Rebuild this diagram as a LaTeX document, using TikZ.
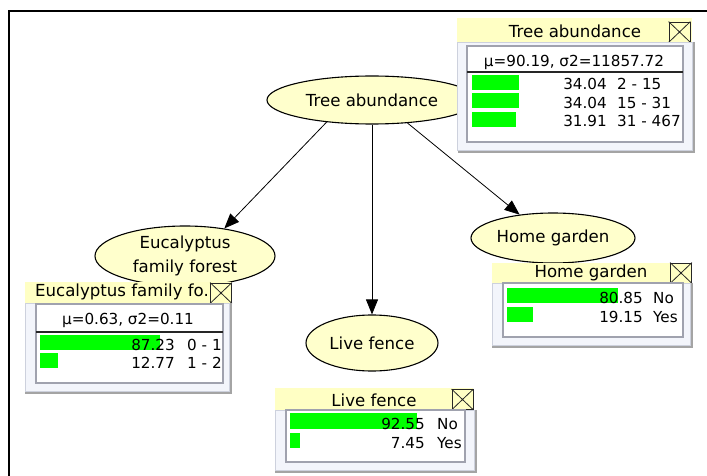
\documentclass[tikz,border=0pt]{standalone}
\usepackage{fontspec}
\setmainfont{DejaVu Sans}
\usetikzlibrary{shapes.geometric,arrows.meta}

\definecolor{nodefill}{HTML}{FFFFCC}
\definecolor{bandfill}{HTML}{FFFFC4}
\definecolor{panelfill}{HTML}{F3F5FB}
\definecolor{panelline}{HTML}{CDD1DD}
\definecolor{shadowgrey}{HTML}{A4A4A4}
\definecolor{boxgrey}{HTML}{A0A2AE}
\definecolor{barfill}{HTML}{00FF00}

\newcommand\ttlfont{\fontsize{16.6}{24}\selectfont}
\newcommand\bodyfont{\fontsize{15.2}{18}\selectfont}

\tikzset{
  var/.style={ellipse, draw=black, line width=1.1pt, fill=nodefill, inner sep=0pt,
              font=\ttlfont, align=center},
  arr/.style={-{Triangle[length=15pt,width=12pt]}, line width=0.8pt},
  band/.style={fill=bandfill},
  panel/.style={fill=panelfill, draw=panelline, line width=0.6pt},
  shade/.style={draw=shadowgrey, line width=2pt},
  inbox/.style={fill=white, draw=boxgrey, line width=1.1pt},
  sep/.style={draw=black!85, line width=1.5pt},
  bar/.style={fill=barfill},
  ttl/.style={font=\ttlfont, inner sep=0pt},
  stat/.style={font=\bodyfont, inner sep=0pt},
  num/.style={font=\bodyfont, inner sep=0pt, anchor=base east},
  lab/.style={font=\bodyfont, inner sep=0pt, anchor=base west},
  closebox/.style={draw=black!85, line width=0.9pt, fill=bandfill, inner sep=0pt,
                   minimum width=21pt, minimum height=20pt},
  cross/.style={draw=black!85, line width=0.8pt}
}

\begin{document}
\begin{tikzpicture}[x=1pt, y=-1pt]
\useasboundingbox (0,0) rectangle (707,476);
\fill[white] (0,0) rectangle (707,476);

% window frame
\draw[line width=2pt] (9,476) -- (9,11) -- (707,11);

% variables
\node[var, minimum width=210pt, minimum height=48pt] (tree) at (372,100) {Tree abundance};
\node[var, minimum width=180pt, minimum height=60pt] (euca) at (185,256) {Eucalyptus\\family forest};
\node[var, minimum width=132pt, minimum height=56pt] (live) at (372,343) {Live fence};
\node[var, minimum width=164pt, minimum height=50pt] (home) at (553,238) {Home garden};

% links
\draw[arr] (tree.206.6) -- (euca.35);
\draw[arr] (tree.270) -- (live.90);
\draw[arr] (tree.327.5) -- (home.145.6);

% ---- monitor: Tree abundance ----
\fill[band] (457,18) rectangle (692,42);
\node[ttl] (treeT) at (575,31) {Tree abundance};
\node[closebox] (treeX) at (679.5,32) {};
\draw[cross] (treeX.north west) -- (treeX.south east) (treeX.north east) -- (treeX.south west);
\draw[panel] (457,42) rectangle (692,150);
\draw[shade] (694,42) -- (694,152) -- (458,152);
\draw[inbox] (467,46) rectangle (683,142);
\node[stat] (treeS) at (574,62) {μ=90.19, σ2=11857.72};
\draw[sep] (467,72) -- (683,72);
\fill[bar] (472,75) rectangle +(46.8,15);
\fill[bar] (472,93.5) rectangle +(46.8,15);
\fill[bar] (472,112) rectangle +(43.9,15);
\node[num] (treeN1) at (607,90) {34.04};
\node[num] (treeN2) at (607,108.5) {34.04};
\node[num] (treeN3) at (607,127) {31.91};
\node[lab] (treeL1) at (617,90) {2 - 15};
\node[lab] (treeL2) at (617,108.5) {15 - 31};
\node[lab] (treeL3) at (617,127) {31 - 467};

% ---- monitor: Eucalyptus family forest ----
\fill[band] (25,282) rectangle (232,303);
\node[ttl] (eucaT) at (122,292) {Eucalyptus family fo.};
\node[closebox] (eucaX) at (221,293) {};
\draw[cross] (eucaX.north west) -- (eucaX.south east) (eucaX.north east) -- (eucaX.south west);
\draw[panel] (25,303) rectangle (229,391);
\draw[shade] (231,303) -- (231,393) -- (25,393);
\draw[inbox] (36,304) rectangle (223,383);
\node[stat] (eucaS) at (128,320) {μ=0.63, σ2=0.11};
\draw[sep] (36,332) -- (223,332);
\fill[bar] (40,335) rectangle +(120.4,15);
\fill[bar] (40,353) rectangle +(17.6,15);
\node[num] (eucaN1) at (175,350) {87.23};
\node[num] (eucaN2) at (175,368) {12.77};
\node[lab] (eucaL1) at (187,350) {0 - 1};
\node[lab] (eucaL2) at (187,368) {1 - 2};

% ---- monitor: Live fence ----
\fill[band] (275,388) rectangle (473,410);
\node[ttl] (liveT) at (374,400) {Live fence};
\node[closebox] (liveX) at (462.5,399.5) {};
\draw[cross] (liveX.north west) -- (liveX.south east) (liveX.north east) -- (liveX.south west);
\draw[panel] (275,410) rectangle (474,470);
\draw[shade] (476,410) -- (476,472) -- (275,472);
\draw[inbox] (286,410) rectangle (465,462);
\fill[bar] (290,413) rectangle +(127.3,16);
\fill[bar] (290,433) rectangle +(10.2,15);
\node[num] (liveN1) at (425,429) {92.55};
\node[num] (liveN2) at (425,448) {7.45};
\node[lab] (liveL1) at (437,429) {No};
\node[lab] (liveL2) at (437,448) {Yes};

% ---- monitor: Home garden ----
\fill[band] (492,263) rectangle (692,283);
\node[ttl] (homeT) at (591,273) {Home garden};
\node[closebox] (homeX) at (681,273) {};
\draw[cross] (homeX.north west) -- (homeX.south east) (homeX.north east) -- (homeX.south west);
\draw[panel] (492,283) rectangle (690,345);
\draw[shade] (692,283) -- (692,347) -- (492,347);
\draw[inbox] (503,283) rectangle (683,337);
\fill[bar] (507,288) rectangle +(111.2,15);
\fill[bar] (507,307) rectangle +(26.3,15);
\node[num] (homeN1) at (643,303) {80.85};
\node[num] (homeN2) at (643,322) {19.15};
\node[lab] (homeL1) at (653,303) {No};
\node[lab] (homeL2) at (653,322) {Yes};
\end{tikzpicture}
\end{document}
